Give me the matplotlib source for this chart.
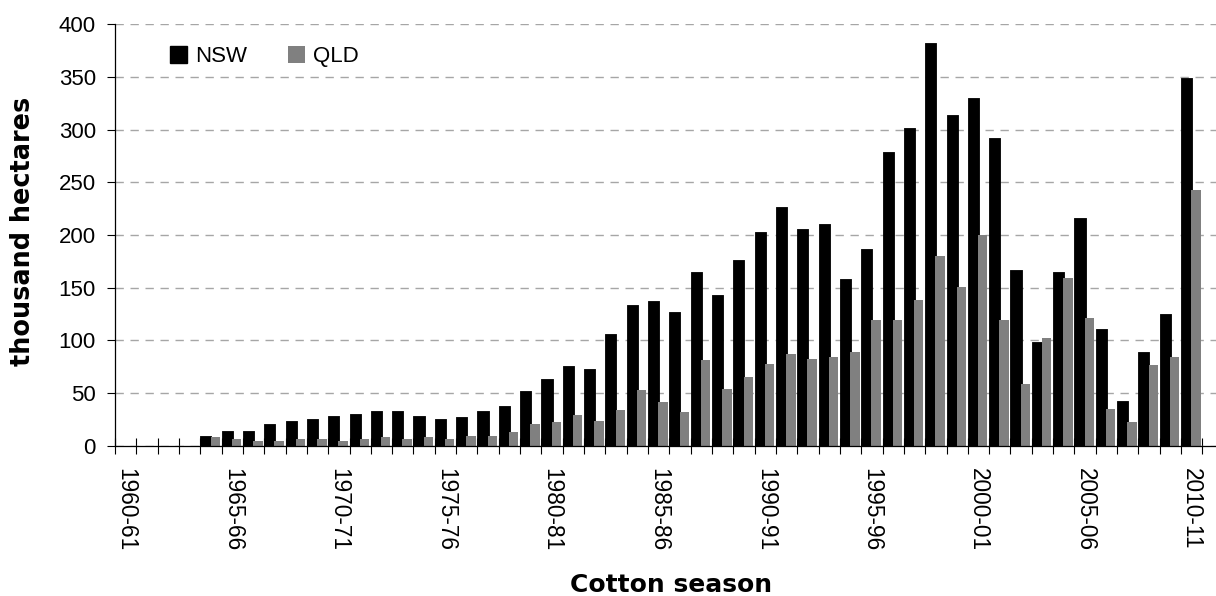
import numpy as np
import matplotlib
matplotlib.use("Agg")
import matplotlib.pyplot as plt
from matplotlib.patches import Patch
from matplotlib.ticker import FixedLocator

plt.rcParams['lines.scale_dashes'] = False
plt.rcParams['xtick.direction'] = 'inout'

# ---- data ----
seasons = [f"{y}-{(y + 1) % 100:02d}" for y in range(1960, 2011)]
nsw = [np.nan, np.nan, np.nan, np.nan, 9.2, 13.6, 13.6, 20, 23.4, 25,
       28.2, 29.8, 33, 33, 28.2, 25, 26.6, 33, 37.7, 51.9,
       63, 75.7, 72.5, 105.8, 133, 137.5, 126.4, 164.7, 142.5, 175.8,
       203, 226.8, 205.9, 210.6, 158.4, 186.9, 279, 301.2, 382.3, 313.9,
       329.7, 291.7, 166.3, 98.2, 164.7, 215.7, 110.8, 42.4, 88.7, 125.1,
       349]
qld = [np.nan, np.nan, np.nan, np.nan, 7.9, 6.3, 4.4, 4.4, 6.3, 6.3,
       4.4, 6.3, 8.2, 6.3, 8.2, 6.3, 9.2, 9.2, 12.7, 20.3,
       22.2, 28.8, 23.1, 33.6, 52.6, 41.2, 31.7, 81, 53.5, 64.9,
       77.3, 86.8, 82, 83.9, 88.7, 119.1, 119.1, 138.1, 179.9, 150.4,
       199.8, 119.1, 58.3, 102, 159, 121, 34.5, 22.2, 76.3, 83.9,
       242.6]
series_names = ["NSW", "QLD"]
yticks = [0, 50, 100, 150, 200, 250, 300, 350, 400]
label_every = 5

W, H = 1216, 596
TICKFONT = {'family': 'Liberation Sans', 'size': 16}
fig = plt.figure(figsize=(W / 100, H / 100), dpi=100)
ax = fig.add_axes([115 / W, (H - 445.5) / H, (1216 - 115) / W, (445.5 - 24.3) / H])

x = np.arange(len(seasons))
nsw_left, nsw_w = -0.5, 0.52
qld_left, qld_w = -0.02, 0.44
ax.bar(x + nsw_left, nsw, width=nsw_w, align='edge', color='#000000',
       edgecolor='#000000', linewidth=0.6, joinstyle='round', zorder=2,
       label=series_names[0])
ax.bar(x + qld_left, qld, width=qld_w, align='edge', color='#808080',
       linewidth=0, zorder=3, label=series_names[1])

ax.set_xlim(-0.5, 51.14)
ax.set_ylim(0, 400)

# y axis
ax.set_yticks(yticks)
ax.set_yticklabels([str(v) for v in yticks], **TICKFONT)
ax.tick_params(axis='y', direction='out', length=5.8, width=0.8, pad=8, color='black')
ax.yaxis.grid(True, color='#a6a6a6', linewidth=1.0, linestyle=(0, (6, 4.8)), zorder=0)
ax.xaxis.grid(False)

# x axis
major = list(range(0, len(seasons), label_every))
ax.set_xticks(major)
ax.set_xticklabels([seasons[i] for i in major], rotation=-90,
                   va='top', ha='center', family='Liberation Sans', size=16.3)
ax.tick_params(axis='x', which='major', length=0, pad=16.5)
ax.xaxis.set_minor_locator(FixedLocator(np.arange(-0.5, len(seasons), 1.0)))
ax.tick_params(axis='x', which='minor', direction='inout', length=12.2, width=0.8, color='black')

for s in ['top', 'right']:
    ax.spines[s].set_visible(False)
for s in ['left', 'bottom']:
    ax.spines[s].set_linewidth(0.9)
    ax.spines[s].set_color('black')
    ax.spines[s].set_zorder(4)
ax.set_axisbelow(True)

# axis titles
fig.text(671 / W, (H - 592) / H, "Cotton season", ha='center', va='baseline',
         fontsize=18, fontweight='bold', family='DejaVu Sans')
fig.text(23 / W, (H - 231) / H, "thousand hectares", ha='center', va='center',
         rotation=90, fontsize=18.4, fontweight='bold', family='DejaVu Sans')

# legend
handles = [Patch(facecolor='#000000', edgecolor='#000000', label=series_names[0]),
           Patch(facecolor='#808080', edgecolor='none', label=series_names[1])]
leg = ax.legend(handles=handles, loc='upper left', bbox_to_anchor=(170 / W, (H - 46) / H),
                bbox_transform=fig.transFigure, ncol=2, frameon=False,
                prop={'family': 'Liberation Sans', 'size': 16},
                handlelength=0.77, handleheight=0.77, handletextpad=0.36,
                columnspacing=1.84, borderpad=0, borderaxespad=0)

fig.savefig("out.png", dpi=100, facecolor='white')
